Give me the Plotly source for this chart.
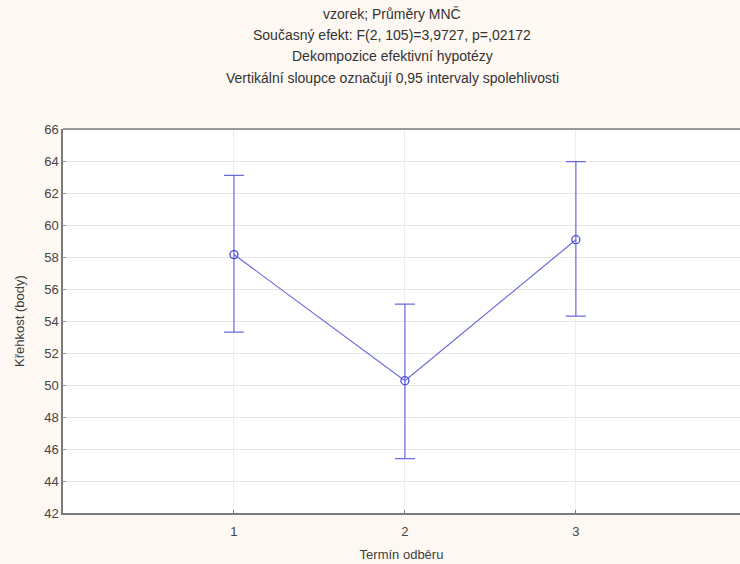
import plotly.graph_objects as go

# Data
termin = [1, 2, 3]
prumer = [58.15, 50.27, 59.08]
ci_lower = [53.3, 45.4, 54.3]
ci_upper = [63.1, 55.05, 63.96]

x_ticks = [1, 2, 3]
y_ticks = list(range(42, 67, 2))

title_lines = [
    "vzorek; Průměry MNČ",
    "Současný efekt: F(2, 105)=3,9727, p=,02172",
    "Dekompozice efektivní hypotézy",
    "Vertikální sloupce označují 0,95 intervaly spolehlivosti",
]

err_plus = [u - m for u, m in zip(ci_upper, prumer)]
err_minus = [m - l for m, l in zip(prumer, ci_lower)]

line_col = "#6B6BE0"
font_fam = "Liberation Sans, Arial, sans-serif"

fig = go.Figure()
fig.add_trace(go.Scatter(
    x=termin, y=prumer,
    mode="lines+markers",
    line=dict(color=line_col, width=1.2),
    marker=dict(symbol="circle-open", size=8, color="#4B4BD6", line=dict(width=1.3)),
    error_y=dict(type="data", symmetric=False, array=err_plus, arrayminus=err_minus,
                 color=line_col, thickness=1.2, width=10),
    showlegend=False,
))

fig.update_layout(
    width=740, height=564,
    margin=dict(l=63, r=0, t=129, b=51),
    paper_bgcolor="#FDF8F1",
    plot_bgcolor="#FFFFFF",
    font=dict(family=font_fam, size=13, color="#404040"),
    xaxis=dict(
        range=[0, 3.96],
        tickmode="array", tickvals=x_ticks, ticktext=[str(t) for t in x_ticks],
        showgrid=True, gridcolor="#EDEDED", gridwidth=1,
        showline=True, linecolor="#7A7A7A", linewidth=1.5,
        ticks="inside", ticklen=3, tickcolor="#7A7A7A",
        ticklabelstandoff=6,
        tickfont=dict(size=13, color="#454545"),
        zeroline=False,
        title=dict(text="Termín odběru", standoff=12, font=dict(size=13, color="#404040")),
    ),
    yaxis=dict(
        range=[42, 66],
        tickmode="array", tickvals=y_ticks, ticktext=[str(t) for t in y_ticks],
        showgrid=True, gridcolor="#E6E6E6", gridwidth=1,
        showline=True, linecolor="#7A7A7A", linewidth=1.5,
        ticks="inside", ticklen=3, tickcolor="#9A9A9A",
        tickfont=dict(size=13, color="#454545"),
        zeroline=False,
        title=dict(text="Křehkost (body)", standoff=17, font=dict(size=13, color="#404040")),
    ),
    shapes=[dict(type="line", xref="paper", yref="paper", x0=0, x1=1, y0=1, y1=1,
                 line=dict(color="#7A7A7A", width=1.5))],
)

for i, t in enumerate(title_lines):
    fig.add_annotation(
        text=t, xref="paper", yref="paper",
        x=(392 - 63) / (740 - 63), y=1,
        yshift=129 - (14 + 21.2 * i),
        yanchor="middle", xanchor="center", showarrow=False,
        font=dict(size=14, color="#333333", family=font_fam),
    )

fig.write_html("out.html")
